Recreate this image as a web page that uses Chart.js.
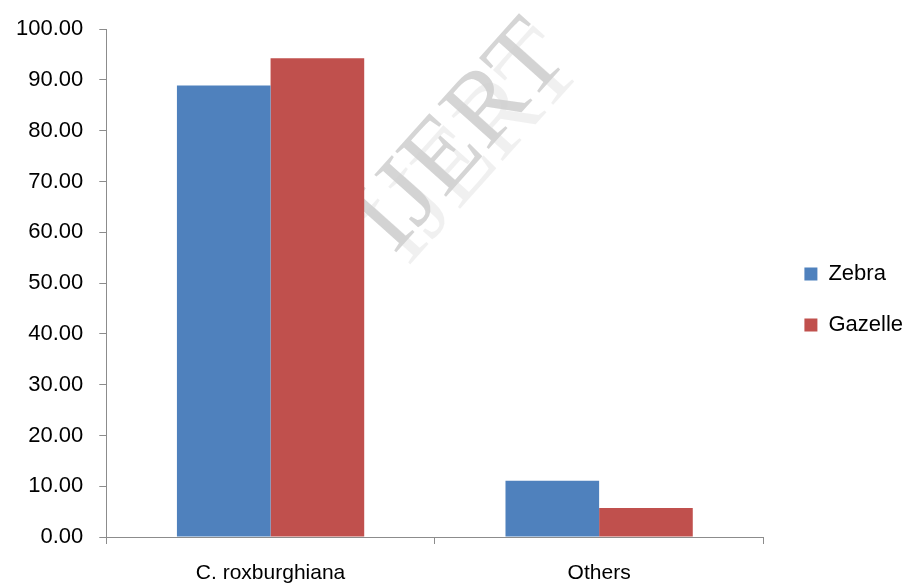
<!DOCTYPE html>
<html>
<head>
<meta charset="utf-8">
<script src="https://cdn.jsdelivr.net/npm/chart.js@4/dist/chart.umd.min.js"></script>
<style>
  html, body { margin: 0; padding: 0; background: #fff; }
  #wrap { width: 903px; height: 588px; }
</style>
</head>
<body>
<div id="wrap"><canvas id="barChart" width="903" height="588"></canvas></div>
<script>
// data
const categories = ["C. roxburghiana", "Others"];
const zebraValues = [88.9, 11.1];
const gazelleValues = [94.3, 5.7];
const seriesNames = ["Zebra", "Gazelle"];
const yMin = 0, yMax = 100, yStep = 10;

const axisGrey = "#8c8c8c";
const fontFace = "'Liberation Sans', Arial, sans-serif";

// faint diagonal watermark behind the bars
const watermark = {
	id: "watermark",
	beforeDatasetsDraw(chart) {
		let ctx = chart.ctx;
		ctx.save();
		ctx.font = "104px 'Liberation Serif', serif";
		ctx.textAlign = "center";
		ctx.textBaseline = "middle";
		// lighter shadow copy
		ctx.save();
		ctx.translate(476, 150);
		ctx.rotate(-0.84);
		ctx.fillStyle = "rgba(238,238,238,0.9)";
		ctx.fillText("IJERT", 0, 0);
		ctx.restore();
		ctx.translate(462, 138);
		ctx.rotate(-0.84);
		ctx.fillStyle = "rgba(208,208,208,0.9)";
		ctx.fillText("IJERT", 0, 0);
		ctx.restore();
	}
};

// nudge the legend a little further right, as in the original
const legendShift = {
	id: "legendShift",
	afterUpdate(chart) {
		let lg = chart.legend;
		if (!lg) return;
		let dx = 12;
		lg.left += dx;
		lg.right += dx;
		lg.legendHitBoxes.forEach(function(b) { b.left += dx; });
	}
};

let ctx = document.getElementById("barChart").getContext("2d");
let barGraph = new Chart(ctx, {
	type: "bar",
	data: {
		labels: categories,
		datasets: [{
			label: seriesNames[0],
			data: zebraValues,
			backgroundColor: "#4F81BD",
			borderWidth: 0
		}, {
			label: seriesNames[1],
			data: gazelleValues,
			backgroundColor: "#C0504D",
			borderWidth: 0
		}]
	},
	options: {
		responsive: false,
		animation: false,
		layout: { padding: { left: 0, right: 2, top: 11, bottom: 0 } },
		datasets: { bar: { categoryPercentage: 0.57, barPercentage: 1.0 } },
		plugins: {
			tooltip: { enabled: false },
			legend: {
				position: "right",
				align: "center",
				labels: {
					boxWidth: 13,
					boxHeight: 13,
					padding: 29,
					color: "#000",
					font: { family: fontFace, size: 22 }
				}
			}
		},
		scales: {
			x: {
				grid: {
					display: true,
					drawOnChartArea: false,
					drawTicks: true,
					tickLength: 7,
					color: axisGrey,
					offset: true
				},
				border: { display: true, color: axisGrey, width: 1 },
				ticks: {
					color: "#000",
					padding: 17,
					font: { family: fontFace, size: 21 }
				},
				afterFit: function(scale) { scale.height = 51; }
			},
			y: {
				min: yMin,
				max: yMax,
				grid: {
					display: true,
					drawOnChartArea: false,
					drawTicks: true,
					tickLength: 7,
					color: axisGrey
				},
				border: { display: true, color: axisGrey, width: 1 },
				ticks: {
					stepSize: yStep,
					color: "#000",
					padding: 16,
					font: { family: fontFace, size: 22 },
					callback: function(value) { return value.toFixed(2); }
				}
			}
		}
	},
	plugins: [watermark, legendShift]
});
</script>
</body>
</html>
